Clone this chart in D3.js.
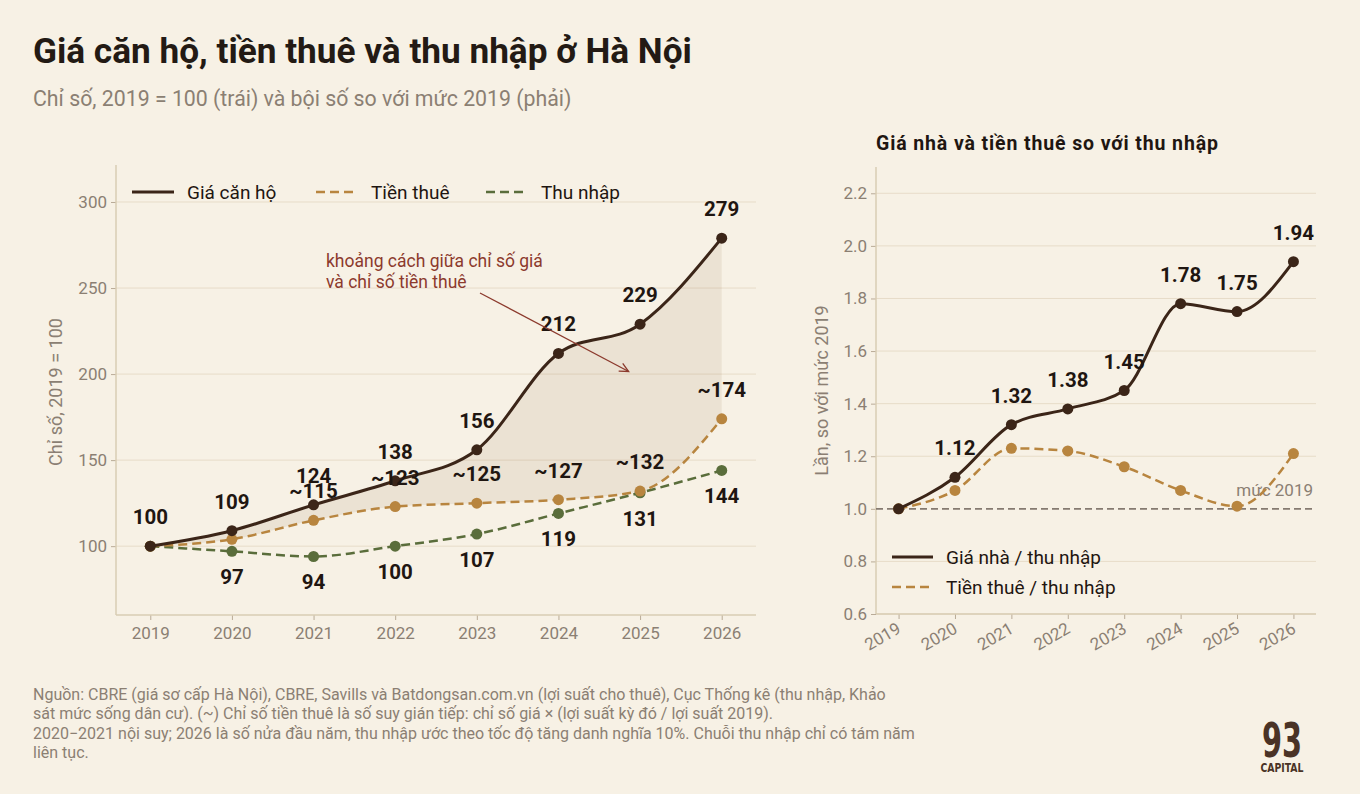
<!DOCTYPE html>
<html>
<head>
<meta charset="utf-8">
<script src="https://cdn.jsdelivr.net/npm/d3@7"></script>
<style>
  body { margin: 0; background: #f7f1e5; }
  svg { display: block; font-family: Roboto, "Noto Sans", sans-serif; }
</style>
</head>
<body>
<svg id="chart" width="1360" height="794"></svg>
<script>
const years = [2019, 2020, 2021, 2022, 2023, 2024, 2025, 2026];
const priceIdx = [100, 109, 124, 138, 156, 212, 229, 279];
const rentIdx = [100, 104, 115, 123, 125, 127, 132, 174];
const incomeIdx = [100, 97, 94, 100, 107, 119, 131, 144];
const priceRatio = [1.00, 1.12, 1.32, 1.38, 1.45, 1.78, 1.75, 1.94];
const rentRatio = [1.00, 1.07, 1.23, 1.22, 1.16, 1.07, 1.01, 1.21];

const leftTicks = [100, 150, 200, 250, 300];
const rightTicks = [0.6, 0.8, 1.0, 1.2, 1.4, 1.6, 1.8, 2.0, 2.2];

const C = {
  bg: "#f7f1e5",
  price: "#3b2518",
  rent: "#b8853f",
  income: "#5a6d3b",
  grid: "#e7dcc8",
  spine: "#d9ccb3",
  muted: "#8b7f73",
  ink: "#1f1611",
  note: "#8c3a2d"
};

const svg = d3.select("#chart");
svg.append("rect").attr("width", 1360).attr("height", 794).attr("fill", C.bg);

// titles
svg.append("text").attr("x", 33).attr("y", 63)
  .attr("font-size", 35.2).attr("font-weight", 700).attr("fill", "#231a14")
  .text("Giá căn hộ, tiền thuê và thu nhập ở Hà Nội");
svg.append("text").attr("x", 33).attr("y", 106)
  .attr("font-size", 21.3).attr("fill", C.muted)
  .text("Chỉ số, 2019 = 100 (trái) và bội số so với mức 2019 (phải)");

// ---------- left panel ----------
const L = { left: 116, right: 756, top: 165, bottom: 615 };
const xL = d3.scaleLinear().domain([2018.58, 2026.42]).range([L.left, L.right]);
const yL = d3.scaleLinear().domain([60, 321.5]).range([L.bottom, L.top]);

const gL = svg.append("g");

gL.selectAll(".grid").data(leftTicks).join("line")
  .attr("x1", L.left).attr("x2", L.right)
  .attr("y1", d => yL(d)).attr("y2", d => yL(d))
  .attr("stroke", C.grid).attr("stroke-width", 1);

function styleAxis(g) {
  g.select(".domain").remove();
  g.selectAll(".tick line").attr("stroke", "#b9ab97");
  g.selectAll(".tick text").attr("fill", C.muted).attr("font-size", 17)
    .attr("font-family", "Roboto, sans-serif");
}

gL.append("g").attr("transform", `translate(${L.left},0)`)
  .call(d3.axisLeft(yL).tickValues(leftTicks).tickSize(5).tickPadding(4))
  .call(styleAxis);
gL.append("g").attr("transform", `translate(0,${L.bottom})`)
  .call(d3.axisBottom(xL).tickValues(years).tickFormat(d3.format("d")).tickSize(5).tickPadding(7))
  .call(styleAxis);

gL.append("line").attr("x1", L.left).attr("x2", L.left).attr("y1", L.top).attr("y2", L.bottom)
  .attr("stroke", C.spine).attr("stroke-width", 1.5);
gL.append("line").attr("x1", L.left).attr("x2", L.right).attr("y1", L.bottom).attr("y2", L.bottom)
  .attr("stroke", C.spine).attr("stroke-width", 1.5);

gL.append("text")
  .attr("transform", `translate(62,${(L.top + L.bottom) / 2 + 2}) rotate(-90)`)
  .attr("text-anchor", "middle").attr("font-size", 18).attr("fill", C.muted)
  .text("Chỉ số, 2019 = 100");

// gap area between price and rent
const gap = years.map((y, i) => ({ x: y, top: priceIdx[i], bot: rentIdx[i] }));
gL.append("path").datum(gap)
  .attr("fill", "#8b5e3c").attr("fill-opacity", 0.1)
  .attr("d", d3.area().curve(d3.curveMonotoneX)
    .x(d => xL(d.x)).y0(d => yL(d.bot)).y1(d => yL(d.top)));

const lineL = d3.line().curve(d3.curveMonotoneX).x(d => xL(d.x)).y(d => yL(d.v));
const seriesL = [
  { vals: incomeIdx, color: C.income, width: 2.5, dash: "9,5" },
  { vals: rentIdx, color: C.rent, width: 2.5, dash: "9,5" },
  { vals: priceIdx, color: C.price, width: 3, dash: null }
];
seriesL.forEach(s => {
  const pts = years.map((y, i) => ({ x: y, v: s.vals[i] }));
  gL.append("path").datum(pts)
    .attr("fill", "none").attr("stroke", s.color).attr("stroke-width", s.width)
    .attr("stroke-dasharray", s.dash).attr("d", lineL);
  gL.selectAll(null).data(pts).join("circle")
    .attr("cx", d => xL(d.x)).attr("cy", d => yL(d.v)).attr("r", 5.5)
    .attr("fill", s.color);
});

function label(g, x, y, t) {
  g.append("text").attr("x", x).attr("y", y).attr("text-anchor", "middle")
    .attr("font-size", 20.5).attr("font-weight", 700).attr("fill", C.ink).text(t);
}
years.forEach((yr, i) => {
  label(gL, xL(yr), yL(priceIdx[i]) - 22, priceIdx[i]);
  if (i > 0) {
    label(gL, xL(yr), yL(incomeIdx[i]) + 33, incomeIdx[i]);
    if (i > 1) label(gL, xL(yr), yL(rentIdx[i]) - 22, "~" + rentIdx[i]);
  }
});

// annotation
const noteG = gL.append("g").attr("fill", C.note).attr("font-size", 17.5);
noteG.append("text").attr("x", 326).attr("y", 267).text("khoảng cách giữa chỉ số giá");
noteG.append("text").attr("x", 326).attr("y", 288).text("và chỉ số tiền thuê");
const ax1 = 480, ay1 = 293, ax2 = xL(2024.86), ay2 = yL(201.5);
gL.append("line").attr("x1", ax1).attr("y1", ay1).attr("x2", ax2).attr("y2", ay2)
  .attr("stroke", C.note).attr("stroke-width", 1.3);
const ang = Math.atan2(ay2 - ay1, ax2 - ax1);
const hl = 10;
gL.append("path")
  .attr("d", `M${ax2 - hl * Math.cos(ang - 0.45)},${ay2 - hl * Math.sin(ang - 0.45)}L${ax2},${ay2}L${ax2 - hl * Math.cos(ang + 0.45)},${ay2 - hl * Math.sin(ang + 0.45)}`)
  .attr("fill", "none").attr("stroke", C.note).attr("stroke-width", 1.3);

// legend left
const legL = [
  { name: "Giá căn hộ", color: C.price, dash: null, w: 3, x: 132 },
  { name: "Tiền thuê", color: C.rent, dash: "9,5", w: 2.5, x: 316 },
  { name: "Thu nhập", color: C.income, dash: "9,5", w: 2.5, x: 486 }
];
legL.forEach(d => {
  gL.append("line").attr("x1", d.x).attr("x2", d.x + 42).attr("y1", 192).attr("y2", 192)
    .attr("stroke", d.color).attr("stroke-width", d.w).attr("stroke-dasharray", d.dash);
  gL.append("text").attr("x", d.x + 55).attr("y", 199).attr("font-size", 19)
    .attr("fill", C.ink).text(d.name);
});

// ---------- right panel ----------
const R = { left: 876, right: 1316, top: 167, bottom: 614 };
const xR = d3.scaleLinear().domain([2018.6, 2026.4]).range([R.left, R.right]);
const yR = d3.scaleLinear().domain([0.6, 2.3]).range([R.bottom, R.top]);
const gR = svg.append("g");

gR.append("text").attr("x", R.left).attr("y", 150).attr("font-size", 19.5)
  .attr("font-weight", 700).attr("fill", C.ink)
  .attr("textLength", 342).attr("lengthAdjust", "spacing")
  .text("Giá nhà và tiền thuê so với thu nhập");

gR.selectAll(".grid").data(rightTicks.filter(d => d !== 1.0)).join("line")
  .attr("x1", R.left).attr("x2", R.right)
  .attr("y1", d => yR(d)).attr("y2", d => yR(d))
  .attr("stroke", C.grid).attr("stroke-width", 1);

gR.append("g").attr("transform", `translate(${R.left},0)`)
  .call(d3.axisLeft(yR).tickValues(rightTicks).tickFormat(d3.format(".1f")).tickSize(5).tickPadding(4))
  .call(styleAxis);
const xAxR = gR.append("g").attr("transform", `translate(0,${R.bottom})`)
  .call(d3.axisBottom(xR).tickValues(years).tickFormat(d3.format("d")).tickSize(5).tickPadding(6))
  .call(styleAxis);
xAxR.selectAll(".tick text")
  .attr("text-anchor", "end").attr("dy", 0)
  .attr("transform", "translate(-1,11) rotate(-30)")
  .attr("y", 8).attr("x", 0);

gR.append("line").attr("x1", R.left).attr("x2", R.left).attr("y1", R.top).attr("y2", R.bottom)
  .attr("stroke", C.spine).attr("stroke-width", 1.5);
gR.append("line").attr("x1", R.left).attr("x2", R.right).attr("y1", R.bottom).attr("y2", R.bottom)
  .attr("stroke", C.spine).attr("stroke-width", 1.5);

gR.append("text")
  .attr("transform", `translate(828,${(R.top + R.bottom) / 2}) rotate(-90)`)
  .attr("text-anchor", "middle").attr("font-size", 18).attr("fill", C.muted)
  .text("Lần, so với mức 2019");

// baseline
gR.append("line").attr("x1", R.left).attr("x2", R.right)
  .attr("y1", yR(1.0)).attr("y2", yR(1.0))
  .attr("stroke", "#857a70").attr("stroke-width", 1.8).attr("stroke-dasharray", "7,4");
gR.append("text").attr("x", 1313).attr("y", yR(1.0) - 13).attr("text-anchor", "end")
  .attr("font-size", 17).attr("fill", C.muted).text("mức 2019");

const lineR = d3.line().curve(d3.curveMonotoneX).x(d => xR(d.x)).y(d => yR(d.v));
const seriesR = [
  { vals: rentRatio, color: C.rent, width: 2.5, dash: "9,5" },
  { vals: priceRatio, color: C.price, width: 3, dash: null }
];
seriesR.forEach(s => {
  const pts = years.map((y, i) => ({ x: y, v: s.vals[i] }));
  gR.append("path").datum(pts)
    .attr("fill", "none").attr("stroke", s.color).attr("stroke-width", s.width)
    .attr("stroke-dasharray", s.dash).attr("d", lineR);
  gR.selectAll(null).data(pts).join("circle")
    .attr("cx", d => xR(d.x)).attr("cy", d => yR(d.v)).attr("r", 5.5)
    .attr("fill", s.color);
});
years.forEach((yr, i) => {
  if (i > 0) label(gR, xR(yr), yR(priceRatio[i]) - 22, priceRatio[i].toFixed(2));
});

const legR = [
  { name: "Giá nhà / thu nhập", color: C.price, dash: null, w: 3, y: 557 },
  { name: "Tiền thuê / thu nhập", color: C.rent, dash: "9,5", w: 2.5, y: 587 }
];
legR.forEach(d => {
  gR.append("line").attr("x1", 892).attr("x2", 933).attr("y1", d.y).attr("y2", d.y)
    .attr("stroke", d.color).attr("stroke-width", d.w).attr("stroke-dasharray", d.dash);
  gR.append("text").attr("x", 946).attr("y", d.y + 7).attr("font-size", 19)
    .attr("fill", C.ink).text(d.name);
});

// ---------- footer ----------
const footer = [
  "Nguồn: CBRE (giá sơ cấp Hà Nội), CBRE, Savills và Batdongsan.com.vn (lợi suất cho thuê), Cục Thống kê (thu nhập, Khảo",
  "sát mức sống dân cư). (~) Chỉ số tiền thuê là số suy gián tiếp: chỉ số giá × (lợi suất kỳ đó / lợi suất 2019).",
  "2020−2021 nội suy; 2026 là số nửa đầu năm, thu nhập ước theo tốc độ tăng danh nghĩa 10%. Chuỗi thu nhập chỉ có tám năm",
  "liên tục."
];
svg.append("g").selectAll("text").data(footer).join("text")
  .attr("x", 33).attr("y", (d, i) => 700 + i * 19.3)
  .attr("font-size", 16).attr("fill", C.muted).text(d => d);

// logo
const logo = svg.append("g").attr("fill", "#4a3326")
  .attr("font-family", "'Liberation Sans Narrow', 'DejaVu Sans Condensed', sans-serif")
  .attr("font-weight", 700).attr("text-anchor", "middle");
logo.append("text").attr("x", 1282).attr("y", 757).attr("font-size", 48)
  .attr("textLength", 40).attr("lengthAdjust", "spacingAndGlyphs").text("93");
logo.append("text").attr("x", 1282).attr("y", 772).attr("font-size", 12.5)
  .attr("textLength", 43).attr("lengthAdjust", "spacingAndGlyphs").text("CAPITAL");
</script>
</body>
</html>
